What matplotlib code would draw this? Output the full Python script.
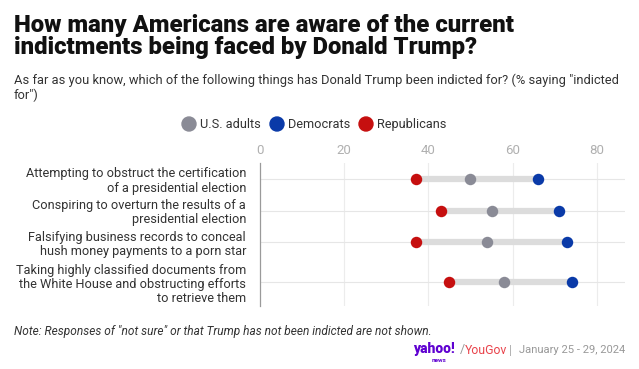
import numpy as np
import matplotlib
matplotlib.use("Agg")
import matplotlib.pyplot as plt

plt.rcParams["font.family"] = ["Roboto", "DejaVu Sans"]

# donnees (% disant "indicted for")
labels = [
    "Attempting to obstruct the certification\nof a presidential election",
    "Conspiring to overturn the results of a\npresidential election",
    "Falsifying business records to conceal\nhush money payments to a porn star",
    "Taking highly classified documents from\nthe White House and obstructing efforts\nto retrieve them",
]
us_adults   = [50, 55, 54, 58]
democrats   = [66, 71, 73, 74]
republicans = [37, 43, 37, 45]
ticks = [0, 20, 40, 60, 80]

GRAY, BLUE, RED = "#8a8b96", "#0a3aa8", "#c60f0f"
W, H = 639, 369

def px(x, y):
    return x / W, 1 - y / H

fig = plt.figure(figsize=(W / 100, H / 100), dpi=100)

# position des lignes : hauteur de bande proportionnelle au nb de lignes du libelle
nlines = np.array([l.count("\n") + 1 for l in labels])
bottoms = np.cumsum(nlines)
ypos = bottoms - nlines / 2
total = bottoms[-1]

ax = fig.add_axes([260 / W, 1 - 306 / H, (625 - 260) / W, (306 - 163) / H])
ax.set_xlim(0, 86.7)
ax.set_ylim(total, 0)

for v in ticks[1:]:
    ax.axvline(v, color="#ececec", linewidth=0.8, zorder=0)
for y in ypos:
    ax.axhline(y, color="#e6e6e6", linewidth=0.8, zorder=0)

ax.hlines(ypos, republicans, democrats, color="#dcdcdc", linewidth=4.5, zorder=1)
ax.scatter(us_adults, ypos, s=68, color=GRAY, zorder=3, linewidths=0)
ax.scatter(democrats, ypos, s=68, color=BLUE, zorder=3, linewidths=0)
ax.scatter(republicans, ypos, s=68, color=RED, zorder=3, linewidths=0)

ax.set_xticks(ticks)
ax.xaxis.tick_top()
ax.tick_params(axis="x", length=0, pad=4, labelsize=9.5, labelcolor="#b0b0b0")
ax.set_yticks(ypos)
ax.set_yticklabels(labels, fontsize=9.2, color="#333333", linespacing=1.12)
ax.tick_params(axis="y", length=0, pad=10)
for s in ["top", "right", "bottom"]:
    ax.spines[s].set_visible(False)
ax.spines["left"].set_color("#9a9a9a")
ax.spines["left"].set_linewidth(0.9)

# titre et sous-titre
fig.text(*px(14, 32), "How many Americans are aware of the current",
         fontsize=17.2, fontweight="black", color="#111111", va="baseline")
fig.text(*px(14, 54), "indictments being faced by Donald Trump?",
         fontsize=17.2, fontweight="black", color="#111111", va="baseline")
fig.text(*px(14, 84), "As far as you know, which of the following things has Donald Trump been indicted for? (% saying \"indicted",
         fontsize=9.3, color="#333333", va="baseline")
fig.text(*px(14, 99), "for\")", fontsize=9.3, color="#333333", va="baseline")

# legende
for cx, tx, col, name in [(189, 200, GRAY, "U.S. adults"),
                          (277, 288, BLUE, "Democrats"),
                          (366, 377, RED, "Republicans")]:
    fig.patches.append(matplotlib.patches.Ellipse(px(cx, 124), 14 / W, 14 / H,
                       transform=fig.transFigure, color=col))
    fig.text(*px(tx, 124), name, fontsize=9.2, color="#333333", va="center")

# note et source
fig.text(*px(14, 332), "Note: Responses of \"not sure\" or that Trump has not been indicted are not shown.",
         fontsize=8.6, style="italic", color="#333333", va="center")
fig.text(*px(413, 349), "yahoo!", fontsize=10, fontweight="black", color="#5f01d1", va="center")
fig.text(*px(439, 361), "news", fontsize=4.5, fontweight="bold", color="#5f01d1", va="center", ha="center")
fig.text(*px(460, 350), "/", fontsize=9, color="#999999", va="center")
fig.text(*px(465, 350), "YouGov", fontsize=8.8, color="#e9434b", va="center")
fig.text(*px(509, 350), "|", fontsize=8.5, color="#aaaaaa", va="center")
fig.text(*px(625, 350), "January 25 - 29, 2024", fontsize=8.1, color="#999999", va="center", ha="right")

fig.savefig("out.png", dpi=100)
